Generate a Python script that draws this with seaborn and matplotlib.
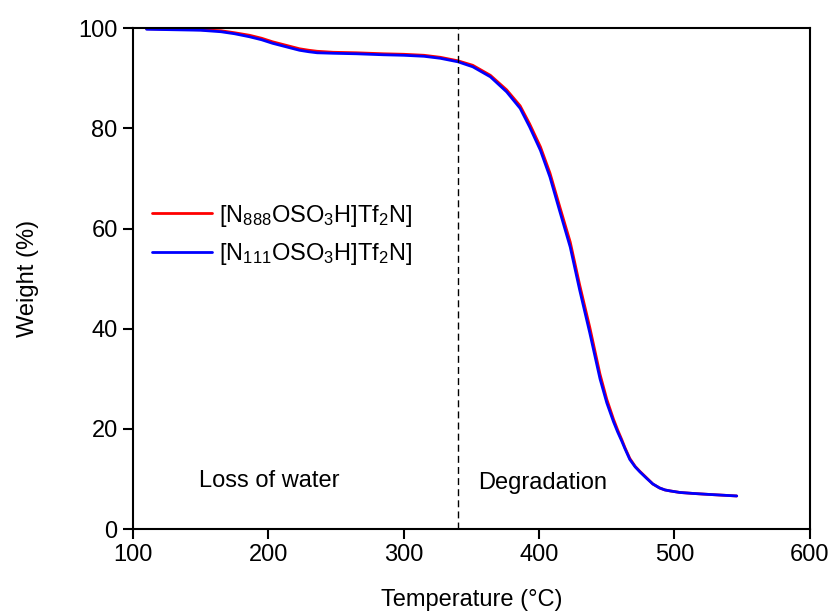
import numpy as np
import pandas as pd
import matplotlib
matplotlib.use("Agg")
import matplotlib.pyplot as plt
import seaborn as sns

# ── data ─────────────────────────────────────────────────
temp = [110, 130, 150, 165, 175, 186, 195, 203, 213, 223, 230, 236, 248, 265,
        285, 300, 315, 327, 340, 351, 364, 376, 386, 393, 401, 408, 415, 423,
        430, 437.5, 445, 450, 455, 458, 461, 463.5, 467, 471, 474.5, 479.5, 484,
        489, 493, 497, 504, 514, 526, 546]
w_n111 = [99.8, 99.7, 99.6, 99.3, 98.9, 98.3, 97.7, 97.0, 96.3, 95.6, 95.3, 95.1,
          95.0, 94.9, 94.7, 94.6, 94.4, 94.0, 93.3, 92.3, 90.3, 87.3, 84.0, 80.3,
          75.6, 70.3, 63.7, 56.3, 47.7, 39.1, 30.0, 25.2, 21.4, 19.4, 17.6, 16.0,
          13.9, 12.4, 11.4, 10.1, 9.0, 8.2, 7.8, 7.6, 7.3, 7.1, 6.9, 6.6]
w_n888 = [99.9, 99.8, 99.7, 99.5, 99.1, 98.6, 98.0, 97.3, 96.6, 95.9, 95.6, 95.4,
          95.2, 95.1, 94.9, 94.8, 94.6, 94.2, 93.5, 92.6, 90.6, 87.7, 84.5, 80.9,
          76.3, 71.1, 64.6, 57.3, 48.7, 40.2, 30.9, 25.9, 21.9, 19.8, 17.9, 16.2,
          14.1, 12.5, 11.5, 10.2, 9.0, 8.2, 7.8, 7.6, 7.3, 7.1, 6.9, 6.6]

labels = [r"[N$_{888}$OSO$_3$H]Tf$_2$N]", r"[N$_{111}$OSO$_3$H]Tf$_2$N]"]
colors = ["#ff0000", "#0000ff"]
split_temp = 340

df = pd.concat([
    pd.DataFrame({"T": temp, "W": w_n888, "sample": labels[0]}),
    pd.DataFrame({"T": temp, "W": w_n111, "sample": labels[1]}),
])

# ── style ────────────────────────────────────────────────
sns.set_style("ticks")
plt.rcParams["font.family"] = ["Liberation Sans", "DejaVu Sans"]
plt.rcParams["mathtext.fontset"] = "custom"
plt.rcParams["mathtext.rm"] = "Liberation Sans"
plt.rcParams["mathtext.it"] = "Liberation Sans"
plt.rcParams["text.color"] = "black"
plt.rcParams["axes.labelcolor"] = "black"
fs = 17

fig, ax = plt.subplots(figsize=(8.34, 6.14), dpi=100)
fig.subplots_adjust(left=0.1595, right=0.971, top=0.954, bottom=0.1384)

sns.lineplot(data=df, x="T", y="W", hue="sample", palette=colors,
             linewidth=2, sort=False, ax=ax)
ax.axvline(split_temp, color="black", lw=1, ls=(0, (5, 3)))

ax.set_xlim(100, 600)
ax.set_ylim(0, 100)
ax.set_xticks(np.arange(100, 601, 100))
ax.set_yticks(np.arange(0, 101, 20))
ax.set_xlabel("Temperature (°C)", fontsize=fs, labelpad=16)
ax.set_ylabel("Weight (%)", fontsize=fs, labelpad=28)
ax.tick_params(direction="out", length=7, width=1.5, labelsize=fs, pad=4,
               colors="black")
for s in ax.spines.values():
    s.set_linewidth(1.5)
    s.set_color("black")

ax.text(148.7, 9.6, "Loss of water", fontsize=fs, va="center", ha="left")
ax.text(354.8, 9.2, "Degradation", fontsize=fs, va="center", ha="left")

ax.legend(loc="upper left", bbox_to_anchor=(0.028, 0.652), frameon=False,
          fontsize=fs, handlelength=2.55, handletextpad=0.3, labelspacing=0.54,
          borderaxespad=0, borderpad=0)

plt.savefig("out.png", dpi=100)
